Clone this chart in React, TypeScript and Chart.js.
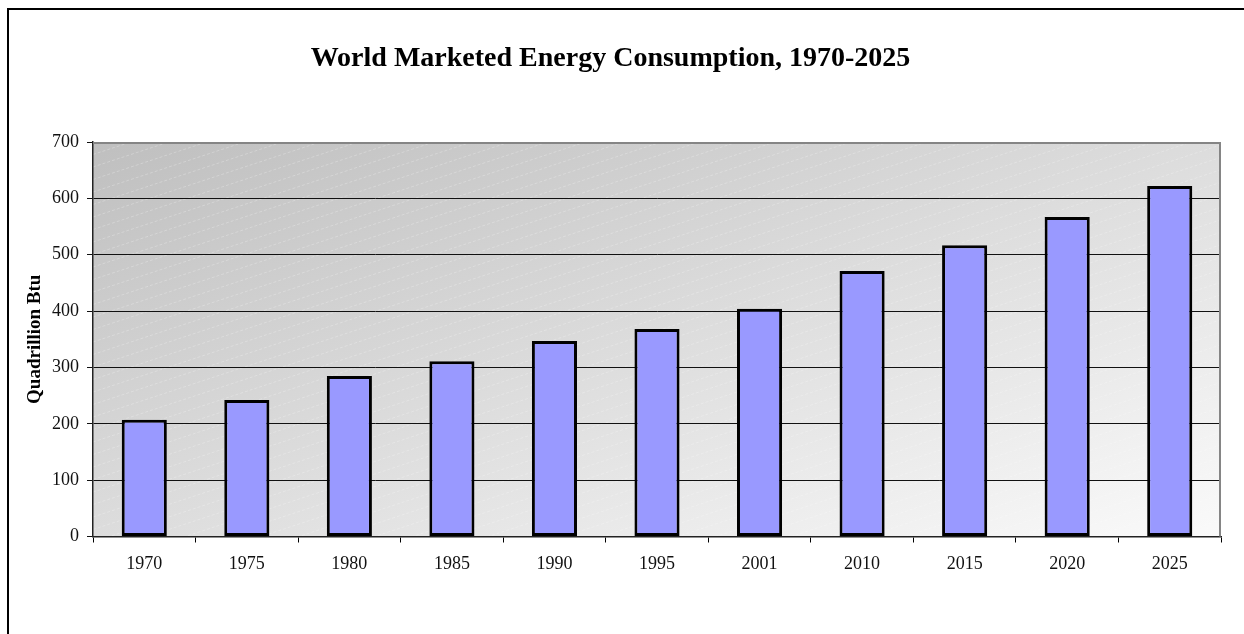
import React, { useEffect, useRef } from "react";
import { Chart, registerables } from "chart.js";

Chart.register(...registerables);

const years = ["1970", "1975", "1980", "1985", "1990", "1995", "2001", "2010", "2015", "2020", "2025"];
const consumption = [207, 242, 285, 311, 347, 368, 404, 471, 517, 567, 622];
const titleText = "World Marketed Energy Consumption, 1970-2025";
const yTitle = "Quadrillion Btu";
const yMin = 0;
const yMax = 700;
const yStep = 100;

const W = 1244;
const H = 634;
const SERIF = "'Liberation Serif', 'Times New Roman', serif";

const plotBg = {
  id: "plotBg",
  beforeDraw(chart: any) {
    const { ctx, chartArea: a } = chart;
    const w = a.right - a.left;
    const h = a.bottom - a.top;
    const cx = (a.left + a.right) / 2;
    const cy = (a.top + a.bottom) / 2;
    const k = (w * h) / (w * w + h * h);
    ctx.save();
    const g = ctx.createLinearGradient(cx - h * k, cy - w * k, cx + h * k, cy + w * k);
    g.addColorStop(0, "#bfbfbf");
    g.addColorStop(1, "#fafafa");
    ctx.fillStyle = g;
    ctx.fillRect(a.left, a.top, w, h);
    ctx.beginPath();
    ctx.rect(a.left, a.top, w, h);
    ctx.clip();
    ctx.beginPath();
    ctx.strokeStyle = "rgba(255,255,255,0.25)";
    ctx.lineWidth = 1;
    ctx.setLineDash([3, 2]);
    const slope = 0.33;
    for (let y0 = a.top; y0 < a.bottom + slope * w; y0 += 12.5) {
      ctx.moveTo(a.left, y0);
      ctx.lineTo(a.right, y0 - slope * w);
    }
    ctx.stroke();
    ctx.restore();
  },
  beforeDatasetsDraw(chart: any) {
    const { ctx, chartArea: a } = chart;
    ctx.save();
    ctx.strokeStyle = "#858585";
    ctx.lineWidth = 2;
    ctx.beginPath();
    ctx.moveTo(a.left, a.top + 1);
    ctx.lineTo(a.right - 1, a.top + 1);
    ctx.lineTo(a.right - 1, a.bottom);
    ctx.stroke();
    ctx.restore();
  },
};

export default function App() {
  const ref = useRef<HTMLCanvasElement | null>(null);

  useEffect(() => {
    if (!ref.current) return;
    const chart = new Chart(ref.current, {
      type: "bar",
      data: {
        labels: years,
        datasets: [
          {
            data: consumption,
            backgroundColor: "#9999ff",
            borderColor: "#000000",
            borderWidth: 3,
            borderSkipped: false,
            categoryPercentage: 1,
            barPercentage: 0.44,
          },
        ],
      },
      options: {
        responsive: false,
        animation: false,
        devicePixelRatio: 1,
        layout: { padding: { left: 0, right: 23, top: 0, bottom: 0 } },
        plugins: {
          legend: { display: false },
          tooltip: { enabled: false },
          title: {
            display: true,
            text: titleText,
            color: "#000",
            font: { family: SERIF, size: 28, weight: "bold" },
            padding: { top: 42, bottom: 66.4 },
          },
        },
        scales: {
          x: {
            afterFit: (s: any) => {
              s.height = 97.5;
            },
            grid: {
              offset: true,
              drawOnChartArea: false,
              drawTicks: true,
              tickLength: 6,
              color: "#000",
              lineWidth: 1,
            },
            border: { display: true, color: "#222", width: 1.5 },
            ticks: {
              color: "#111",
              padding: 11,
              font: { family: SERIF, size: 18 },
              maxRotation: 0,
            },
          },
          y: {
            min: yMin,
            max: yMax,
            afterFit: (s: any) => {
              s.width = 93;
            },
            grid: {
              drawOnChartArea: true,
              drawTicks: true,
              tickLength: 6,
              color: "#111",
              lineWidth: 1,
            },
            border: { display: true, color: "#222", width: 1.5 },
            ticks: {
              stepSize: yStep,
              color: "#111",
              padding: 8,
              font: { family: SERIF, size: 18 },
            },
            title: {
              display: true,
              text: yTitle,
              color: "#000",
              font: { family: SERIF, size: 19, weight: "bold" },
              padding: { top: 24, bottom: 0 },
            },
          },
        },
      },
      plugins: [plotBg],
    });
    return () => chart.destroy();
  }, []);

  return (
    <div style={{ position: "fixed", left: 0, top: 0, width: W, height: H, overflow: "hidden", background: "#fff" }}>
      <div
        style={{
          position: "absolute",
          left: 7,
          top: 8,
          width: 1400,
          height: 800,
          borderLeft: "2px solid #000",
          borderTop: "2px solid #000",
        }}
      />
      <canvas ref={ref} width={W} height={H} style={{ position: "absolute", left: 0, top: 0, width: W, height: H }} />
    </div>
  );
}
